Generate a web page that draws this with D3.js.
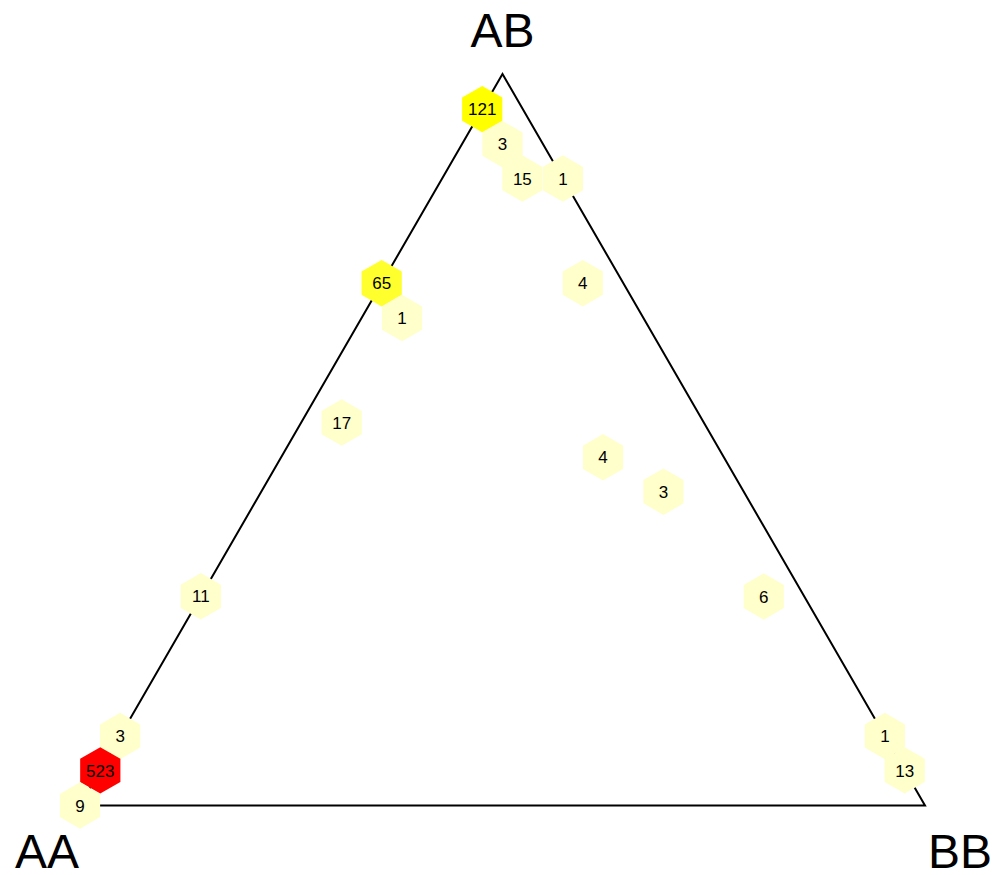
<!DOCTYPE html>
<html>
<head>
<meta charset="utf-8">
<script src="https://cdn.jsdelivr.net/npm/d3@7"></script>
<style>
  html, body { margin: 0; padding: 0; background: #fff; }
  svg { display: block; font-family: "Liberation Sans", Arial, Helvetica, sans-serif; }
</style>
</head>
<body>
<svg id="chart" width="998" height="875"></svg>
<script>
// genotype fractions of each hex bin centre (AA, AB, BB) and the number of samples in it
const binAA  = [0.048, 0.048, 0.048, 0,     0.286, 0.286, 0.048, 0.429, 0.143, 0.095, 0.714, 0.048, 0.905, 0.952, 1, 0,     0];
const binAB  = [0.952, 0.905, 0.857, 0.857, 0.714, 0.667, 0.714, 0.524, 0.476, 0.429, 0.286, 0.286, 0.095, 0.048, 0, 0.095, 0.048];
const binBB  = [0,     0.048, 0.095, 0.143, 0,     0.048, 0.238, 0.048, 0.381, 0.476, 0,     0.667, 0,     0,     0, 0.905, 0.952];
const counts = [121,   3,     15,    1,     65,    1,     4,     17,    4,     3,     11,    6,     3,     523,   9, 1,     13];

const corners = ["AA", "AB", "BB"];
const N_BINS = 21; // hexes across the base of the triangle

const colorBreaks = [30, 100, 300];
const colorSteps  = ["#ffffcc", "#ffff2e", "#ffff00", "#ff0000"];

const svg = d3.select("#chart");

// ternary -> cartesian: horizontal runs AA(0) .. BB(1), vertical is AB share
const x = d3.scaleLinear().domain([0, 1]).range([80, 925]);
const y = d3.scaleLinear().domain([0, 1]).range([805.5, 74]);
const color = d3.scaleThreshold().domain(colorBreaks).range(colorSteps);

const px = (aa, ab, bb) => x((bb + ab / 2) / (aa + ab + bb));
const py = (aa, ab, bb) => y(ab / (aa + ab + bb));

const bins = counts.map((n, i) => ({
  aa: binAA[i], ab: binAB[i], bb: binBB[i], n: n
}));

// triangle outline
const tri = [[1, 0, 0], [0, 1, 0], [0, 0, 1]].map(d => [px(...d), py(...d)]);
svg.append("path")
  .attr("d", d3.line()(tri) + "Z")
  .attr("fill", "none")
  .attr("stroke", "#000")
  .attr("stroke-width", 2)
  .attr("stroke-linejoin", "miter");

// pointy-top hexagon
const hexR = (x(1) - x(0)) / N_BINS / Math.sqrt(3);
const hexPath = d3.range(6).map(k => {
  const a = Math.PI / 3 * k + Math.PI / 6;
  return [hexR * Math.cos(a), hexR * Math.sin(a)];
});

const cell = svg.append("g").attr("class", "hexes")
  .selectAll("g")
  .data(bins)
  .enter().append("g")
  .attr("transform", d => `translate(${px(d.aa, d.ab, d.bb)}, ${py(d.aa, d.ab, d.bb)})`);

cell.append("path")
  .attr("d", d3.line()(hexPath) + "Z")
  .attr("fill", d => color(d.n))
  .attr("stroke", "none");

cell.append("text")
  .attr("text-anchor", "middle")
  .attr("dy", "0.36em")
  .attr("font-size", 17)
  .attr("fill", "#000")
  .text(d => d.n);

// corner labels
const labelPos = [
  { name: corners[0], x: px(1, 0, 0) - 33, y: py(1, 0, 0) + 62, anchor: "middle" },
  { name: corners[1], x: px(0, 1, 0), y: py(0, 1, 0) - 27, anchor: "middle" },
  { name: corners[2], x: px(0, 0, 1) + 35, y: py(0, 0, 1) + 62, anchor: "middle" }
];

svg.append("g").selectAll("text")
  .data(labelPos)
  .enter().append("text")
  .attr("x", d => d.x)
  .attr("y", d => d.y)
  .attr("text-anchor", d => d.anchor)
  .attr("font-size", 48)
  .attr("fill", "#000")
  .text(d => d.name);
</script>
</body>
</html>
